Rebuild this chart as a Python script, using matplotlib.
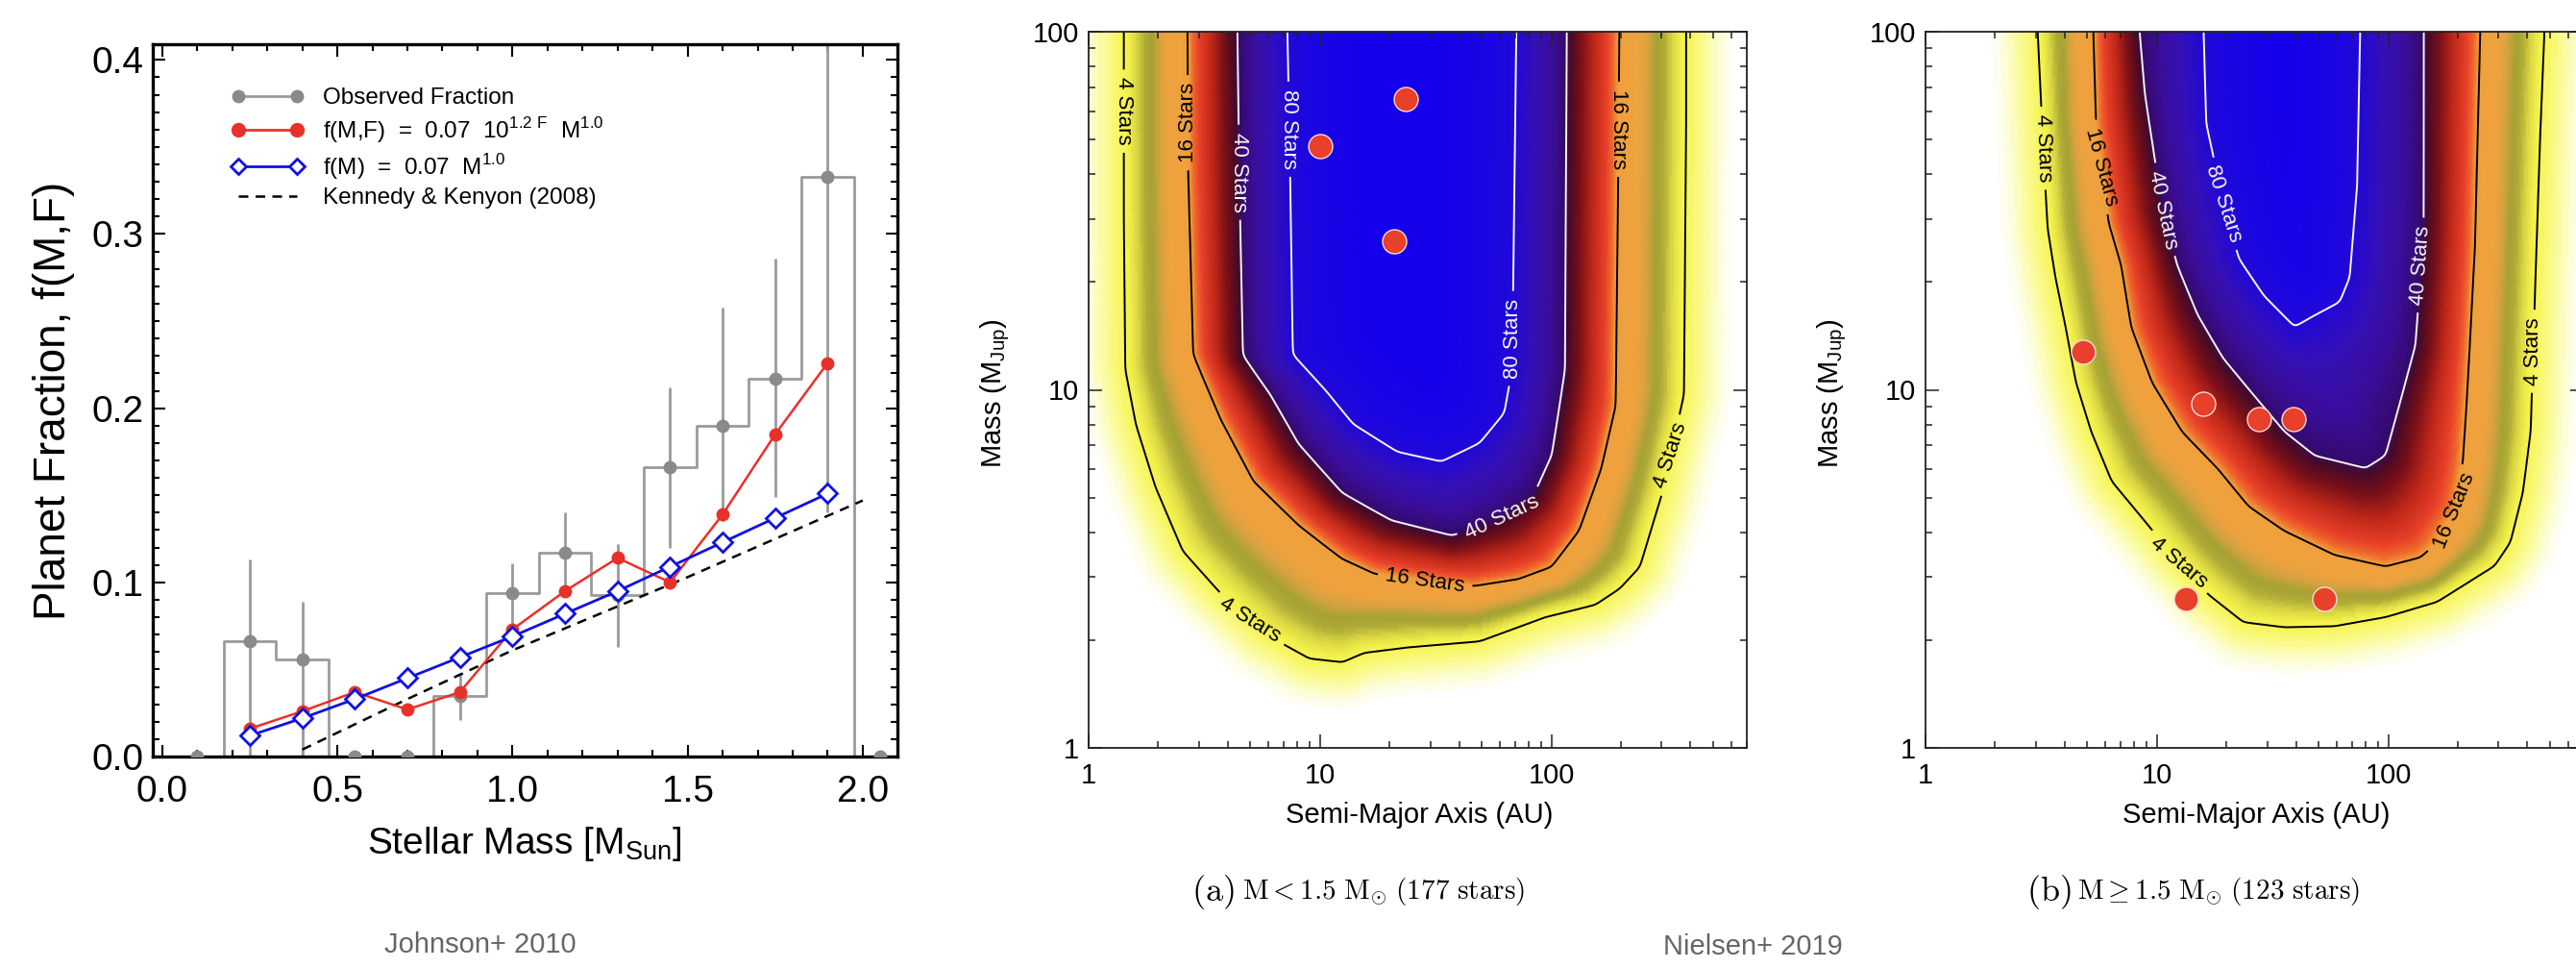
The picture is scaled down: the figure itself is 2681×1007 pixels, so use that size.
import numpy as np
import matplotlib
matplotlib.use("Agg")
import matplotlib.pyplot as plt
from matplotlib.path import Path
from matplotlib.lines import Line2D
from matplotlib.colors import LinearSegmentedColormap
from matplotlib.ticker import MultipleLocator, FixedLocator, NullFormatter, FixedFormatter

plt.rcParams['font.family'] = ['Liberation Sans', 'DejaVu Sans']

W, H, DPI = 2681, 1007, 100

# ---------------- Left panel data (Johnson+ 2010) ----------------
obs_mass = [0.10, 0.25, 0.40, 0.55, 0.70, 0.85, 1.00, 1.15, 1.30, 1.45, 1.60, 1.75, 1.90, 2.05]
obs_frac = [0.0, 0.066, 0.056, 0.0, 0.0, 0.035, 0.094, 0.117, 0.093, 0.166, 0.190, 0.217, 0.333, 0.0]
obs_lower = [np.nan, 0.0, 0.0, np.nan, np.nan, 0.021, 0.075, 0.095, 0.063, 0.120, 0.135, 0.149, 0.140, np.nan]
obs_upper = [np.nan, 0.113, 0.089, np.nan, np.nan, 0.048, 0.111, 0.140, 0.122, 0.212, 0.258, 0.286, 0.450, np.nan]

model_mass = [0.25, 0.40, 0.55, 0.70, 0.85, 1.00, 1.15, 1.30, 1.45, 1.60, 1.75, 1.90]
f_MF = [0.016, 0.026, 0.037, 0.027, 0.037, 0.073, 0.095, 0.114, 0.100, 0.139, 0.185, 0.226]
f_M = [0.012, 0.022, 0.033, 0.045, 0.057, 0.069, 0.082, 0.095, 0.109, 0.123, 0.137, 0.151]

kk_mass = [0.40, 0.70, 1.00, 1.50, 2.00]
kk_frac = [0.004, 0.033, 0.061, 0.103, 0.147]

# ---------------- Contour data (Nielsen+ 2019), (a, m) along each contour ----------------
levels = [4, 16, 40, 80]
level_names = ['4 Stars', '16 Stars', '40 Stars', '80 Stars']

pa_4_a = [1.43, 1.43, 1.45, 1.61, 1.95, 2.56, 3.66, 5.82, 9.0, 12.5, 15.5, 24.1, 49, 94, 155, 197, 240, 300, 343, 372, 380, 380]
pa_4_m = [100, 30, 11.4, 8.0, 5.37, 3.55, 2.74, 2.08, 1.78, 1.74, 1.85, 1.92, 2.0, 2.34, 2.53, 2.80, 3.21, 5.17, 7.68, 9.7, 55, 100]
pa_16_a = [2.7, 2.72, 2.86, 3.76, 5.2, 8.1, 12.5, 17.3, 28.5, 46.6, 72, 100, 131, 163, 188, 193, 195]
pa_16_m = [100, 40, 12.6, 8.3, 5.6, 4.24, 3.41, 3.09, 2.95, 2.85, 2.97, 3.21, 4.07, 6.05, 9.0, 42.2, 100]
pa_40_a = [4.42, 4.5, 4.67, 6.13, 8.1, 12.5, 20.4, 37.3, 61, 84.7, 100, 114, 116]
pa_40_m = [100, 40, 12.5, 9.75, 7.1, 5.17, 4.33, 3.92, 4.4, 5.17, 6.56, 11.4, 100]
pa_80_a = [7.2, 7.4, 7.6, 10.6, 13.9, 21.6, 33.5, 49, 62.8, 68, 70.9]
pa_80_m = [100, 40, 12.5, 9.9, 8.0, 6.7, 6.3, 7.1, 8.6, 11.4, 100]

pb_4_a = [3.08, 3.2, 3.32, 3.4, 3.67, 4.06, 4.5, 5.23, 6.4, 8.66, 12.0, 16.7, 23.7, 35.6, 58.7, 97.5, 162, 240, 287, 335, 379, 410, 430, 450, 470]
pb_4_m = [100, 60, 37.2, 28.2, 20.6, 15.0, 10.5, 7.66, 5.57, 4.4, 3.4, 2.69, 2.25, 2.18, 2.2, 2.34, 2.58, 3.02, 3.24, 3.76, 5.16, 7.65, 20.6, 50, 100]
pb_16_a = [5.36, 5.5, 6.24, 7.07, 7.8, 9.6, 12.95, 18.5, 25.0, 35.6, 58.7, 97.5, 138, 153, 193, 209, 217, 235, 248]
pb_16_m = [100, 55.4, 29.3, 22.3, 15.0, 10.5, 7.66, 6.04, 4.76, 4.07, 3.47, 3.21, 3.4, 3.61, 4.58, 6.28, 9.3, 25, 100]
pb_40_a = [8.44, 8.9, 9.6, 10.6, 12.3, 15.1, 19.4, 26.3, 35.6, 48.2, 79.8, 97.5, 113, 131, 137, 142, 142]
pb_40_m = [100, 67.3, 49, 32, 22.3, 16.2, 12.3, 9.7, 7.66, 6.55, 6.04, 6.55, 9.3, 13.3, 20, 29.3, 100]
pb_80_a = [15.9, 16.3, 19.4, 22.6, 29, 39.4, 48.2, 61.7, 68.2, 73.5, 75.8]
pb_80_m = [100, 55.4, 33, 23.2, 18.3, 15.0, 16.2, 17.6, 20.6, 37.2, 100]

# detected companions
pa_planet_a = [10.0, 23.5, 21.0]
pa_planet_m = [48.0, 65.0, 26.0]
pb_planet_a = [4.8, 15.9, 27.6, 38.9, 13.4, 52.7]
pb_planet_m = [12.8, 9.15, 8.26, 8.26, 2.6, 2.6]

# contour label anchor points (a, m) and text rotations
pa_lab_a = [1.43, 4.94, 333, 2.63, 28.5, 198, 4.42, 61, 7.17, 68]
pa_lab_m = [60, 2.25, 6.55, 55.7, 2.95, 53.4, 40.5, 4.41, 53.4, 13.9]
pa_lab_rot = [-90, -32, 72, 90, -8, -90, -90, 25, -90, 90]
pb_lab_a = [3.08, 12.3, 440, 5.78, 193, 10.6, 137, 19.4]
pb_lab_m = [47.2, 3.27, 12.8, 41.9, 4.58, 31.8, 22.3, 33.0]
pb_lab_rot = [-88, -40, 90, -75, 68, -78, 86, -72]

# ---------------- figure ----------------
fig = plt.figure(figsize=(W / DPI, H / DPI), dpi=DPI)

# ===== Left panel =====
ax1 = fig.add_axes([159 / W, 1 - 787 / H, 775 / W, 741 / H])
gray = '#9a9a9a'
ax1.step(obs_mass, obs_frac, where='mid', color=gray, lw=2.0, zorder=2)
ax1.vlines(obs_mass, obs_lower, obs_upper, color=gray, lw=2.0, zorder=2)
ax1.plot(obs_mass, obs_frac, 'o', color='#8a8a8a', ms=9, zorder=3)
ax1.plot(kk_mass, kk_frac, color='k', lw=1.8, dashes=(4, 3), zorder=3)
ax1.plot(model_mass, f_MF, '-o', color='#e8312a', lw=1.8, ms=9, zorder=4)
ax1.plot(model_mass, f_M, '-D', color='#1010e0', lw=2.0, ms=10, mew=2, mfc='white', zorder=5)
ax1.set_xlim(-0.027, 2.099)
ax1.set_ylim(0.0, 0.409)
ax1.xaxis.set_major_locator(MultipleLocator(0.5))
ax1.xaxis.set_minor_locator(MultipleLocator(0.1))
ax1.yaxis.set_major_locator(MultipleLocator(0.1))
ax1.yaxis.set_minor_locator(MultipleLocator(0.01))
ax1.xaxis.set_major_formatter(matplotlib.ticker.FormatStrFormatter('%.1f'))
ax1.yaxis.set_major_formatter(matplotlib.ticker.FormatStrFormatter('%.1f'))
ax1.tick_params(which='both', direction='in', top=True, right=True, width=1.5, colors='k')
ax1.tick_params(which='major', length=9, labelsize=28)
ax1.tick_params(which='minor', length=5)
ax1.tick_params(axis='x', which='major', pad=14)
ax1.tick_params(axis='y', which='major', pad=7)
for s in ax1.spines.values():
    s.set_linewidth(2.4)
ax1.yaxis.get_major_ticks()[0].label1.set_verticalalignment('bottom')

leg_handles = [
    Line2D([], [], color=gray, marker='o', mfc='#8a8a8a', mec='#8a8a8a', ms=9, lw=2),
    Line2D([], [], color='#e8312a', marker='o', ms=10, lw=2),
    Line2D([], [], color='#1010e0', marker='D', ms=8, mew=2, mfc='white', lw=2),
    Line2D([], [], color='k', lw=1.8, dashes=(4, 3)),
]
leg_labels = ['Observed Fraction',
              r'f(M,F)  =  0.07  10$^{\mathregular{1.2\ F}}$  M$^{\mathregular{1.0}}$',
              r'f(M)  =  0.07  M$^{\mathregular{1.0}}$',
              'Kennedy & Kenyon (2008)']
ax1.legend(leg_handles, leg_labels, loc='upper left', bbox_to_anchor=(0.106, 0.939),
           frameon=False, numpoints=2, fontsize=17.5, handlelength=3.1, handletextpad=0.8,
           labelspacing=0.28, borderpad=0, borderaxespad=0)

fig.text(546 / W, 1 - 878 / H, r'Stellar Mass [M$_{\mathregular{Sun}}$]', fontsize=28,
         ha='center', va='center')
fig.text(56 / W, 1 - 417 / H, 'Planet Fraction, f(M,F)', fontsize=33, rotation=90,
         ha='center', va='center')
fig.text(500 / W, 1 - 983 / H, 'Johnson+ 2010', fontsize=21, color='#666666',
         ha='center', va='center')

# ===== Contour panels =====
DX, DY = 241.5, 372.5   # pixels per decade


def seg_dist(P, poly):
    d = np.full(len(P), np.inf)
    for (x0, y0), (x1, y1) in zip(poly[:-1], poly[1:]):
        dx, dy = x1 - x0, y1 - y0
        L2 = dx * dx + dy * dy
        if L2 == 0:
            continue
        t = np.clip(((P[:, 0] - x0) * dx + (P[:, 1] - y0) * dy) / L2, 0, 1)
        d = np.minimum(d, np.hypot(P[:, 0] - (x0 + t * dx), P[:, 1] - (y0 + t * dy)))
    return d


def blur(Z, s):
    r = int(3 * s)
    k = np.exp(-0.5 * (np.arange(-r, r + 1) / s) ** 2)
    k /= k.sum()
    Zp = np.pad(Z, ((r, r), (0, 0)), mode='edge')
    Z = np.apply_along_axis(lambda c: np.convolve(c, k, mode='valid'), 0, Zp)
    Zp = np.pad(Z, ((0, 0), (r, r)), mode='edge')
    Z = np.apply_along_axis(lambda c: np.convolve(c, k, mode='valid'), 1, Zp)
    return Z


def build_field(A, M, contours, fade=60.0):
    P = np.column_stack([np.log10(A).ravel() * DX, np.log10(M).ravel() * DY])
    ins, dist = [], []
    for ca, cm in contours:
        ca = np.r_[ca[0], ca, ca[-1]]
        cm = np.r_[1e4, cm, 1e4]
        poly = np.column_stack([np.log10(ca) * DX, np.log10(cm) * DY])
        closed = np.vstack([poly, poly[:1]])
        ins.append(Path(closed).contains_points(P))
        dist.append(seg_dist(P, closed))
    t = np.clip(dist[0] / fade, 0, 1)
    v = levels[0] * (1 - t) ** 1.3
    for i in range(len(levels) - 1):
        band = ins[i] & ~ins[i + 1]
        frac = dist[i] / (dist[i] + dist[i + 1] + 1e-9)
        v = np.where(band, levels[i] + (levels[i + 1] - levels[i]) * frac, v)
    v = np.where(ins[-1], levels[-1] + 0.5 * dist[-1], v)
    return blur(v.reshape(A.shape), 1.5)


vnodes = [0, 0.8, 2.0, 3.5, 4.6, 6.0, 7.5, 8.8, 10.5, 12, 16, 18, 21, 27, 33, 38, 41, 52, 66, 80, 95, 120]
cnodes = ['#ffffff', '#fdfde2', '#fbfb9c', '#f7f55a', '#f2f04a', '#dcd844', '#b2ae38', '#a4a234',
          '#d8a240', '#eea23e', '#efa03c', '#ef6a2c', '#e8402a', '#c02818', '#7a1018', '#4a0a28',
          '#360a70', '#3a0e9c', '#3410b8', '#2208d8', '#1806e4', '#1400ea']
vmax = vnodes[-1]
cmap = LinearSegmentedColormap.from_list('dos', list(zip(np.array(vnodes) / vmax, cnodes)))

la = np.logspace(-0.03, 2.9, 420)
lm = np.logspace(-0.03, 2.03, 320)
A, M = np.meshgrid(la, lm)

fmt = dict(zip(levels, level_names))


def contour_panel(ax, contours, lab_a, lab_m, lab_rot, pl_a, pl_m):
    F = build_field(A, M, contours)
    ax.pcolormesh(A, M, np.clip(F, 0, vmax), cmap=cmap, vmin=0, vmax=vmax, shading='gouraud', zorder=0)
    cs = ax.contour(A, M, F, levels=levels, colors=['k', 'k', '#f4f4f4', '#f4f4f4'],
                    linewidths=1.4, zorder=2)
    ax.set_xscale('log')
    ax.set_yscale('log')
    ax.set_xlim(1, 700)
    ax.set_ylim(1, 100)
    texts = cs.clabel(fmt=fmt, manual=list(zip(lab_a, lab_m)), inline=True, fontsize=16,
                      inline_spacing=8)
    for t, r in zip(texts, lab_rot):
        t.set_rotation(r)
    ax.scatter(pl_a, pl_m, s=18 ** 2, color='#e8402a', edgecolors='#f8dcd8', linewidths=1.0, zorder=5)
    ax.xaxis.set_major_locator(FixedLocator([1, 10, 100]))
    ax.xaxis.set_major_formatter(FixedFormatter(['1', '10', '100']))
    ax.yaxis.set_major_locator(FixedLocator([1, 10, 100]))
    ax.yaxis.set_major_formatter(FixedFormatter(['1', '10', '100']))
    ax.xaxis.set_minor_locator(matplotlib.ticker.LogLocator(base=10, subs=np.arange(2, 10), numticks=20))
    ax.yaxis.set_minor_locator(matplotlib.ticker.LogLocator(base=10, subs=np.arange(2, 10), numticks=20))
    ax.xaxis.set_minor_formatter(NullFormatter())
    ax.yaxis.set_minor_formatter(NullFormatter())
    ax.tick_params(which='both', direction='in', top=True, right=True, width=1.1, colors='#222222')
    ax.tick_params(which='major', length=10, labelsize=21, labelcolor='k')
    ax.tick_params(axis='x', which='major', pad=11)
    ax.tick_params(axis='y', which='major', pad=7)
    ax.tick_params(which='minor', length=5)
    for s in ax.spines.values():
        s.set_linewidth(1.3)
        s.set_color('#222222')
        s.set_zorder(6)
    ax.set_axisbelow(False)


ax2 = fig.add_axes([1133 / W, 1 - 778 / H, 685 / W, 745 / H])
contour_panel(ax2, [(pa_4_a, pa_4_m), (pa_16_a, pa_16_m), (pa_40_a, pa_40_m), (pa_80_a, pa_80_m)],
              pa_lab_a, pa_lab_m, pa_lab_rot, pa_planet_a, pa_planet_m)
ax3 = fig.add_axes([2004 / W, 1 - 778 / H, 685 / W, 745 / H])
contour_panel(ax3, [(pb_4_a, pb_4_m), (pb_16_a, pb_16_m), (pb_40_a, pb_40_m), (pb_80_a, pb_80_m)],
              pb_lab_a, pb_lab_m, pb_lab_rot, pb_planet_a, pb_planet_m)

for x0 in (1133, 2004):
    fig.text((x0 + 344) / W, 1 - 848 / H, 'Semi-Major Axis (AU)', fontsize=21, ha='center', va='center')
    fig.text((x0 - 97) / W, 1 - 409 / H, r'Mass (M$_{\mathregular{Jup}}$)', fontsize=21, rotation=90,
             ha='center', va='center')

for xs, tag, rest in ((1240, '(a)', r'$\mathrm{M{<}1.5\ M}_{\odot}\ \mathrm{(177\ stars)}$'),
                      (2109, '(b)', r'$\mathrm{M{\geq}1.5\ M}_{\odot}\ \mathrm{(123\ stars)}$')):
    fig.text(xs / W, 1 - 928 / H, r'$\mathrm{' + tag + '}$', fontsize=26, ha='left', va='center',
             math_fontfamily='cm')
    fig.text((xs + 53) / W, 1 - 928 / H, rest, fontsize=21, ha='left', va='center', math_fontfamily='cm')

fig.text(1824 / W, 1 - 985 / H, 'Nielsen+ 2019', fontsize=21, color='#666666', ha='center', va='center')

fig.savefig('out.png', dpi=DPI)
